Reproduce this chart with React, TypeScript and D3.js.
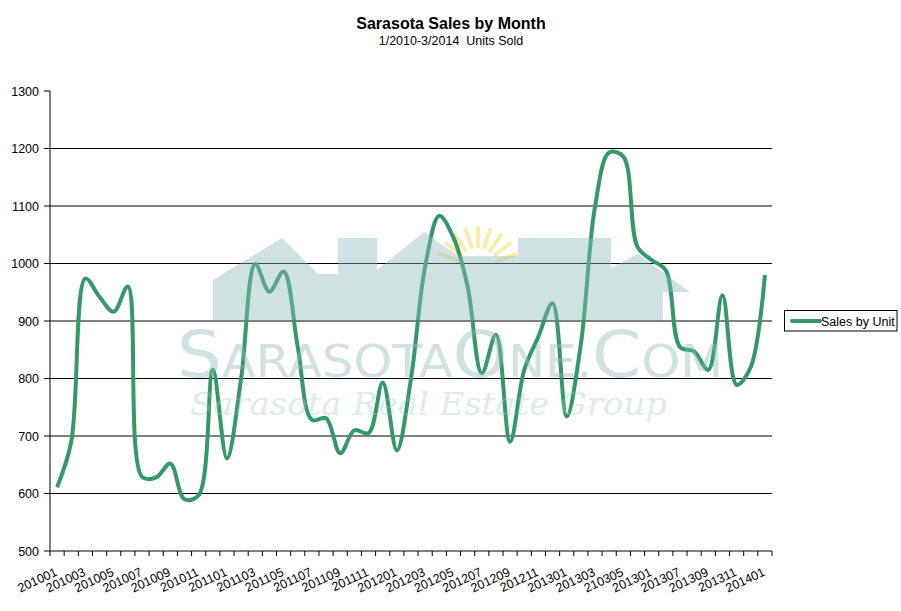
import React from "react";
import * as d3 from "d3";

const title = "Sarasota Sales by Month";
const subtitle = "1/2010-3/2014  Units Sold";
const seriesName = "Sales by Unit";

const salesByUnit = [
  611, 690, 974, 942, 916, 960, 629, 628, 652, 590, 597, 815, 661, 800, 999, 951, 986,
  855, 728, 731, 670, 710, 705, 793, 675, 800, 995, 1083, 1045, 960, 809, 876, 690,
  815, 873, 931, 734, 860, 1099, 1193, 1186, 1029, 1006, 988, 855, 847, 815, 945, 789,
  820, 980,
];

const tickLabels = [
  "201001", "201003", "201005", "201007", "201009", "201011", "201101", "201103",
  "201105", "201107", "201109", "201111", "201201", "201203", "201205", "201207",
  "201209", "201211", "201301", "201303", "210305", "201301", "201307", "201309",
  "201311", "201401",
];

const yTicks = [500, 600, 700, 800, 900, 1000, 1100, 1200, 1300];

const W = 901;
const H = 611;
const M = { left: 50, right: 772, top: 91, bottom: 551 };
const FONT = "Arial, 'Liberation Sans', sans-serif";
const GREEN = "#339966";
const WM = "rgb(143,186,183)";

export default function App() {
  const idx = salesByUnit.map((_, i) => i);
  const x = d3.scaleBand<number>().domain(idx).range([M.left, M.right]);
  const y = d3.scaleLinear().domain([500, 1300]).range([M.bottom, M.top]);
  const cx = (i: number) => (x(i) as number) + x.bandwidth() / 2;

  const line = d3
    .line<number>()
    .x((_, i) => cx(i))
    .y((d) => y(d))
    .curve(d3.curveCatmullRom.alpha(0.5));

  const boundaries = d3.range(salesByUnit.length + 1).map((k) => M.left + k * x.bandwidth());

  const house: [number, number][] = [
    [213, 320], [213, 280], [282, 238], [318, 274], [338, 274], [338, 238], [377, 238],
    [377, 270], [424, 232], [458, 256], [518, 256], [518, 238], [611, 238], [611, 268],
    [638, 254], [690, 292], [663, 292], [663, 320],
  ];
  const sunC = [478, 268];
  const rays = d3.range(9).map((k) => {
    const a = (-160 + k * 17.5) * (Math.PI / 180);
    return {
      x1: sunC[0] + Math.cos(a) * 20,
      y1: sunC[1] + Math.sin(a) * 20,
      x2: sunC[0] + Math.cos(a) * 42,
      y2: sunC[1] + Math.sin(a) * 42,
    };
  });

  return (
    <svg
      width={W}
      height={H}
      style={{ position: "absolute", left: 0, top: 0, background: "#fff" }}
      fontFamily={FONT}
    >
      <text x={451} y={29} textAnchor="middle" fontSize={16} fontWeight="bold">
        {title}
      </text>
      <text x={451} y={45} textAnchor="middle" fontSize={12.5} style={{ whiteSpace: "pre" }}>
        {subtitle}
      </text>

      {/* sun (behind houses) */}
      <g opacity={0.45}>
        {rays.map((r, k) => (
          <line key={k} {...r} stroke="#f2d94a" strokeWidth={4} />
        ))}
      </g>

      {/* gridlines */}
      {yTicks
        .filter((t) => t > 500 && t < 1300)
        .map((t) => (
          <line key={t} x1={M.left} x2={M.right} y1={y(t)} y2={y(t)} stroke="#000" strokeWidth={1} />
        ))}

      {/* y axis */}
      <line x1={M.left} x2={M.left} y1={M.top} y2={M.bottom} stroke="#000" />
      {yTicks.map((t) => (
        <g key={t}>
          <line x1={M.left - 6} x2={M.left} y1={y(t)} y2={y(t)} stroke="#000" />
          <text x={39} y={y(t)} dy="0.36em" textAnchor="end" fontSize={12.5}>
            {t}
          </text>
        </g>
      ))}

      {/* x axis */}
      <line x1={M.left} x2={M.right} y1={M.bottom} y2={M.bottom} stroke="#000" />
      {boundaries.map((b, k) => (
        <line key={k} x1={b} x2={b} y1={M.bottom} y2={M.bottom + 5} stroke="#000" />
      ))}
      {tickLabels.map((lab, k) => {
        const px = cx(k * 2);
        return (
          <text
            key={k}
            transform={`translate(${px + 1},${M.bottom + 24}) rotate(-25)`}
            textAnchor="end"
            fontSize={12.5}
          >
            {lab}
          </text>
        );
      })}

      {/* series */}
      <path d={line(salesByUnit) || ""} fill="none" stroke={GREEN} strokeWidth={4} strokeLinejoin="round" />

      {/* watermark */}
      <g opacity={0.42} pointerEvents="none">
        <polygon points={house.map((p) => p.join(",")).join(" ")} fill={WM} />
        <text x={177} y={377} fill={WM} fontFamily="'DejaVu Sans', sans-serif" textLength={546} lengthAdjust="spacingAndGlyphs">
          <tspan fontSize={64}>S</tspan>
          <tspan fontSize={45}>ARASOTA</tspan>
          <tspan fontSize={64}>O</tspan>
          <tspan fontSize={45}>NE.</tspan>
          <tspan fontSize={64}>C</tspan>
          <tspan fontSize={45}>OM</tspan>
        </text>
        <text x={190} y={415} fill="rgb(160,200,196)" fontFamily="'DejaVu Serif', serif" fontStyle="italic" fontSize={31} textLength={477} lengthAdjust="spacingAndGlyphs" opacity={0.8}>
          Sarasota Real Estate Group
        </text>
      </g>

      {/* legend */}
      <rect x={784.5} y={310.5} width={112.5} height={20.5} fill="#fff" stroke="#000" />
      <line x1={792} x2={820} y1={321} y2={321} stroke={GREEN} strokeWidth={4} strokeLinecap="round" />
      <text x={821} y={321} dy="0.36em" fontSize={12.5}>
        {seriesName}
      </text>
    </svg>
  );
}
